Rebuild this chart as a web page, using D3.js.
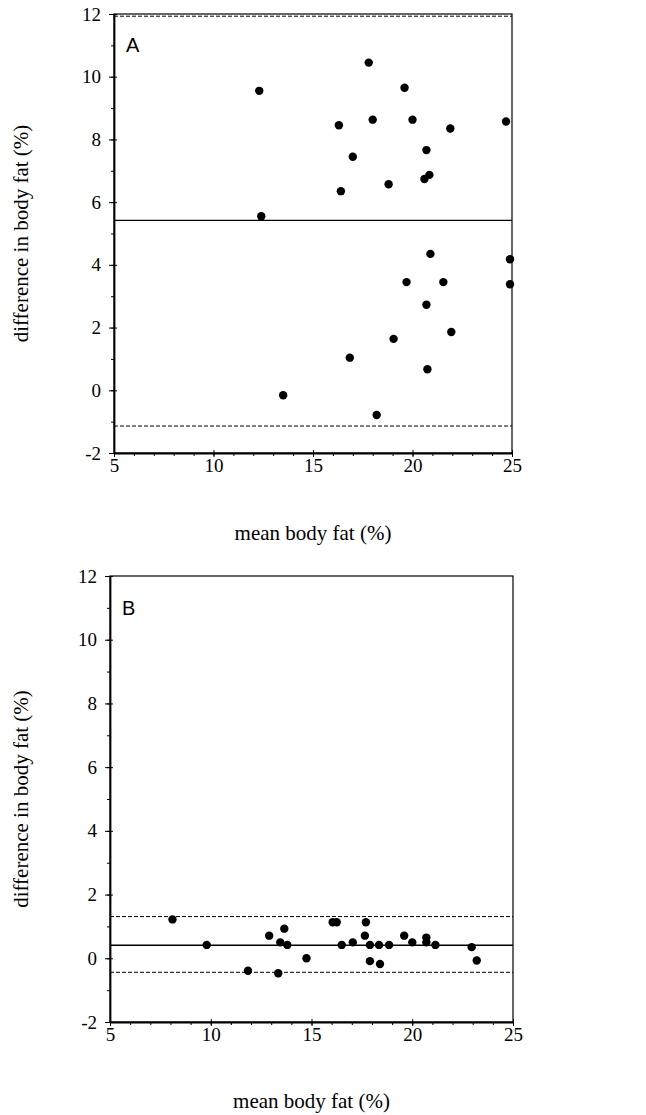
<!DOCTYPE html>
<html>
<head>
<meta charset="utf-8">
<script src="https://cdn.jsdelivr.net/npm/d3@7"></script>
<style>
  body { margin: 0; background: white; }
</style>
</head>
<body>
<div id="container"></div>
<script>
/* CONSTANTS AND GLOBALS */
const width = 646,
    height = 1115;

// panel A: mean body fat (x) vs difference (y)
const meanA = [12.3, 12.4, 17.8, 19.6, 16.3, 18.0, 20.0, 21.9, 24.7, 20.7, 17.0, 16.4, 18.8, 20.6, 20.85,
    20.9, 24.9, 24.9, 19.7, 21.55, 20.7, 21.95, 19.05, 16.85, 20.75, 13.5, 18.2]
const diffA = [9.55, 5.55, 10.45, 9.65, 8.45, 8.63, 8.63, 8.35, 8.57, 7.66, 7.45, 6.35, 6.57, 6.74, 6.87,
    4.35, 4.18, 3.38, 3.45, 3.45, 2.73, 1.86, 1.64, 1.04, 0.67, -0.16, -0.79]
const linesA = [11.93, 5.42, -1.14]   // upper limit, mean, lower limit

// panel B
const meanB = [8.1, 9.8, 11.85, 12.9, 13.45, 13.65, 13.8, 13.35, 14.75, 16.05, 16.25, 16.5, 17.05, 17.7,
    17.65, 17.9, 17.9, 18.35, 18.4, 18.85, 19.6, 20.0, 20.7, 20.7, 21.15, 22.95, 23.2]
const diffB = [1.22, 0.42, -0.39, 0.71, 0.5, 0.93, 0.42, -0.47, 0.0, 1.13, 1.13, 0.42, 0.5, 1.13,
    0.71, 0.42, -0.09, 0.42, -0.18, 0.42, 0.71, 0.5, 0.65, 0.5, 0.42, 0.35, -0.07]
const linesB = [1.31, 0.41, -0.44]

const xTicks = [5, 10, 15, 20, 25]
const yTicks = [-2, 0, 2, 4, 6, 8, 10, 12]

const serif = "'Liberation Serif', 'Times New Roman', serif"

const svg = d3.select("#container")
    .append("svg")
    .attr("width", width)
    .attr("height", height)
    .style("background-color", "white")

function drawPanel(letter, xs, ys, limits, box) {
    const xScale = d3.scaleLinear().domain([5, 25]).range([box.left, box.right])
    const yScale = d3.scaleLinear().domain([-2, 12]).range([box.bottom, box.top])

    const g = svg.append("g")

    // frame (top + right)
    g.append("rect")
        .attr("x", box.left)
        .attr("y", box.top)
        .attr("width", box.right - box.left)
        .attr("height", box.bottom - box.top)
        .attr("fill", "none")
        .attr("stroke", "black")
        .attr("stroke-width", 1.2)

    // minor ticks
    const xAxisMinor = d3.axisBottom(xScale).tickValues(d3.range(5, 26, 1)).tickSize(3).tickSizeOuter(0).tickFormat("")
    g.append("g")
        .attr("transform", "translate(0," + box.bottom + ")")
        .call(xAxisMinor)
        .call(sel => sel.select(".domain").remove())

    const yAxisMinor = d3.axisLeft(yScale).tickValues(d3.range(-2, 13, 1)).tickSize(3).tickSizeOuter(0).tickFormat("")
    g.append("g")
        .attr("transform", "translate(" + box.left + ",0)")
        .call(yAxisMinor)
        .call(sel => sel.select(".domain").remove())

    // AXES
    const xAxis = d3.axisBottom(xScale).tickValues(xTicks).tickSize(4).tickSizeOuter(0).tickPadding(2)
        .tickFormat(d => String(d))
    g.append("g")
        .attr("transform", "translate(0," + box.bottom + ")")
        .call(xAxis)
        .call(sel => sel.select(".domain").attr("stroke-width", 2))
        .call(sel => sel.selectAll(".tick line").attr("y1", -3))

    const yAxis = d3.axisLeft(yScale).tickValues(yTicks).tickSize(5).tickSizeOuter(0).tickPadding(8)
        .tickFormat(d => String(d))
    g.append("g")
        .attr("transform", "translate(" + box.left + ",0)")
        .call(yAxis)
        .call(sel => sel.select(".domain").attr("stroke-width", 1.8))
        .call(sel => sel.selectAll(".tick line").attr("x1", 3))

    g.selectAll(".tick text")
        .attr("fill", "black")
        .style("font-family", serif)
        .style("font-size", "19px")

    // limit lines
    g.selectAll("line.limit")
        .data(limits)
        .join("line")
        .attr("class", "limit")
        .attr("x1", box.left)
        .attr("x2", box.right)
        .attr("y1", d => yScale(d))
        .attr("y2", d => yScale(d))
        .attr("stroke", "black")
        .attr("stroke-width", (d, i) => i === 1 ? 1.4 : 1)
        .attr("stroke-dasharray", (d, i) => i === 1 ? null : "4,2")

    // DOTS
    g.selectAll("circle")
        .data(xs)
        .join("circle")
        .attr("cx", d => xScale(d))
        .attr("cy", (d, i) => yScale(ys[i]))
        .attr("r", 4.2)
        .attr("fill", "black")

    // LABELS
    g.append("text")
        .attr("x", box.left + 12)
        .attr("y", yScale(11) + 7)
        .style("font-family", "'Liberation Sans', Arial, sans-serif")
        .style("font-size", "20px")
        .text(letter)

    g.append("text")
        .attr("transform", "translate(28," + ((box.top + box.bottom) / 2) + ") rotate(-90)")
        .attr("text-anchor", "middle")
        .style("font-family", serif)
        .style("font-size", "21px")
        .text("difference in body fat (%)")

    g.append("text")
        .attr("x", (box.left + box.right) / 2)
        .attr("y", box.labelY)
        .attr("text-anchor", "middle")
        .style("font-family", serif)
        .style("font-size", "21px")
        .text("mean body fat (%)")
}

drawPanel("A", meanA, diffA, linesA, { left: 114, right: 512, top: 14, bottom: 453, labelY: 540 })
drawPanel("B", meanB, diffB, linesB, { left: 110, right: 513, top: 576, bottom: 1022, labelY: 1108 })
</script>
</body>
</html>
